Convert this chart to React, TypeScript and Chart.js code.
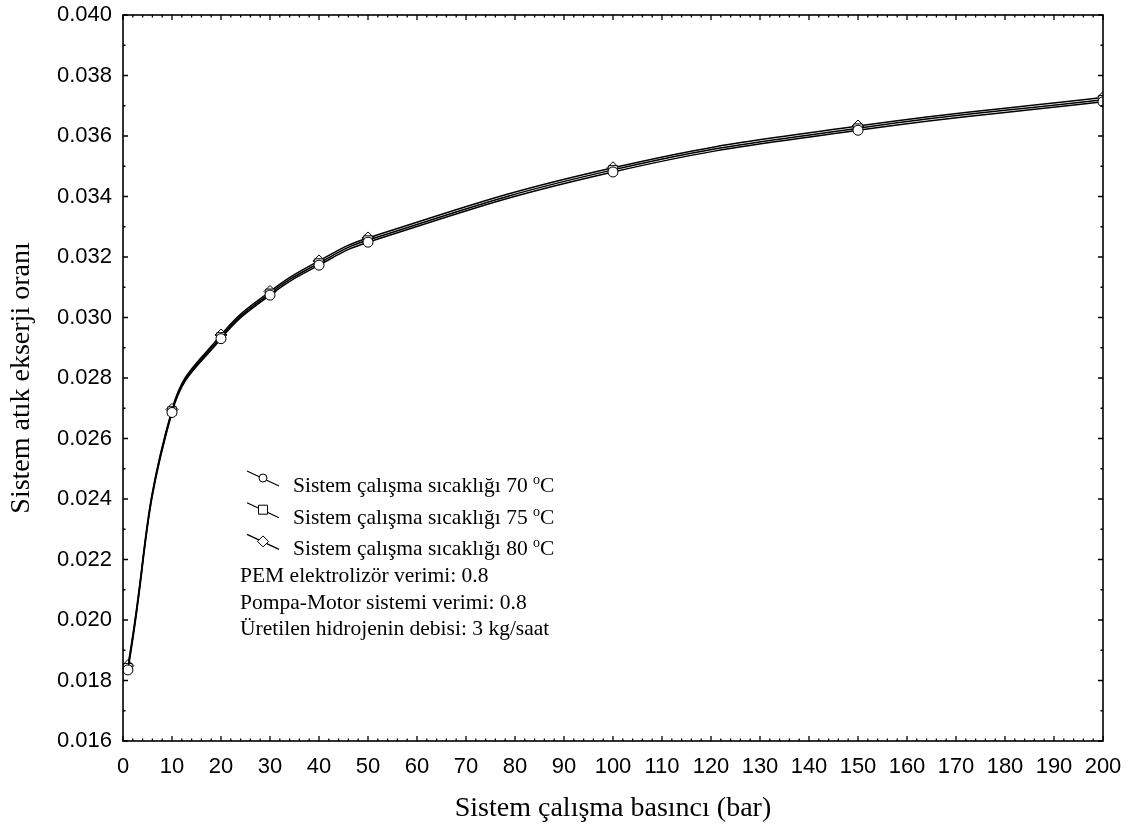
import React, { useEffect, useRef } from "react";
import { Chart, registerables } from "chart.js";

Chart.register(...registerables);

// Data
const pressures = [1, 10, 20, 30, 40, 50, 100, 150, 200];
const temps = [70, 75, 80];
const ratio70 = [0.01835, 0.02686, 0.02930, 0.03074, 0.03173, 0.03249, 0.03481, 0.03619, 0.03713];
const ratio75 = [0.01842, 0.02691, 0.02936, 0.03080, 0.03180, 0.03256, 0.03488, 0.03626, 0.03720];
const ratio80 = [0.01849, 0.02696, 0.02942, 0.03086, 0.03187, 0.03263, 0.03495, 0.03633, 0.03727];
const seriesValues = [ratio70, ratio75, ratio80];
const pointStyles = ["circle", "rect", "rectRot"];
const legendPrefix = "Sistem çalışma sıcaklığı ";
const notes = [
  "PEM elektrolizör verimi: 0.8",
  "Pompa-Motor sistemi verimi: 0.8",
  "Üretilen hidrojenin debisi: 3 kg/saat",
];
const xTitle = "Sistem çalışma basıncı (bar)";
const yTitle = "Sistem atık ekserji oranı";
const xMin = 0, xMax = 200, xStep = 10, xMinorStep = 2;
const yMin = 0.016, yMax = 0.04, yStep = 0.002, yMinorStep = 0.001;

const SERIF = '"Liberation Serif", "Times New Roman", serif';
const SANS = '"Liberation Sans", Arial, sans-serif';

function drawMarker(ctx: CanvasRenderingContext2D, style: string, x: number, y: number) {
  ctx.beginPath();
  if (style === "circle") {
    ctx.arc(x, y, 4, 0, Math.PI * 2);
  } else if (style === "rect") {
    ctx.rect(x - 4.5, y - 4.5, 9, 9);
  } else {
    ctx.moveTo(x, y - 5.5);
    ctx.lineTo(x + 5.5, y);
    ctx.lineTo(x, y + 5.5);
    ctx.lineTo(x - 5.5, y);
    ctx.closePath();
  }
  ctx.fillStyle = "#fff";
  ctx.fill();
  ctx.lineWidth = 1;
  ctx.strokeStyle = "#000";
  ctx.stroke();
}

const framePlugin = {
  id: "frame",
  afterDraw(chart: any) {
    const { ctx, chartArea: a, scales } = chart;
    const xs = scales.x, ys = scales.y;
    ctx.save();
    ctx.strokeStyle = "#000";
    ctx.lineWidth = 1.6;
    ctx.strokeRect(a.left, a.top, a.right - a.left, a.bottom - a.top);
    ctx.lineWidth = 1.3;
    ctx.beginPath();
    const nx = Math.round((xMax - xMin) / xMinorStep);
    const perMajorX = Math.round(xStep / xMinorStep);
    for (let i = 0; i <= nx; i++) {
      const px = xs.getPixelForValue(xMin + i * xMinorStep);
      const len = i % perMajorX === 0 ? 5 : 2.5;
      ctx.moveTo(px, a.bottom); ctx.lineTo(px, a.bottom - len);
      ctx.moveTo(px, a.top); ctx.lineTo(px, a.top + len);
    }
    const ny = Math.round((yMax - yMin) / yMinorStep);
    const perMajorY = Math.round(yStep / yMinorStep);
    for (let i = 0; i <= ny; i++) {
      const py = ys.getPixelForValue(yMin + i * yMinorStep);
      const len = i % perMajorY === 0 ? 5 : 2.5;
      ctx.moveTo(a.left, py); ctx.lineTo(a.left + len, py);
      ctx.moveTo(a.right, py); ctx.lineTo(a.right - len, py);
    }
    ctx.stroke();

    // axis titles
    ctx.fillStyle = "#000";
    ctx.font = "28px " + SERIF;
    ctx.textAlign = "center";
    ctx.textBaseline = "alphabetic";
    ctx.fillText(xTitle, (a.left + a.right) / 2, chart.height - 11);
    ctx.save();
    ctx.translate(29, (a.top + a.bottom) / 2);
    ctx.rotate(-Math.PI / 2);
    ctx.fillText(yTitle, 0, 0);
    ctx.restore();

    // legend
    const lx = a.left + 124;
    const ly = a.top + 477;
    ctx.textAlign = "left";
    temps.forEach((t, i) => {
      const base = ly + i * 31.7;
      const mx = lx + 16, my = base - 14;
      ctx.beginPath();
      ctx.moveTo(lx, my - 7);
      ctx.lineTo(lx + 32, my + 8);
      ctx.lineWidth = 1.2;
      ctx.strokeStyle = "#000";
      ctx.stroke();
      drawMarker(ctx, pointStyles[i], mx, my);
      ctx.fillStyle = "#000";
      ctx.font = "21.5px " + SERIF;
      const main = legendPrefix + t + " ";
      let tx = lx + 46;
      ctx.fillText(main, tx, base);
      tx += ctx.measureText(main).width;
      ctx.font = "14px " + SERIF;
      ctx.fillText("o", tx, base - 8);
      tx += ctx.measureText("o").width;
      ctx.font = "21.5px " + SERIF;
      ctx.fillText("C", tx, base);
    });
    ctx.font = "21.5px " + SERIF;
    notes.forEach((n, i) => {
      ctx.fillText(n, a.left + 117, ly + 90 + i * 26.7);
    });
    ctx.restore();
  },
};

export default function App() {
  const ref = useRef<HTMLCanvasElement | null>(null);
  useEffect(() => {
    if (!ref.current) return;
    const chart = new Chart(ref.current, {
      type: "line",
      data: {
        datasets: temps.map((t, i) => ({
          label: legendPrefix + t + " °C",
          data: pressures.map((p, j) => ({ x: p, y: seriesValues[i][j] })),
          borderColor: "#000",
          borderWidth: 1.5,
          backgroundColor: "#fff",
          pointStyle: pointStyles[i] as any,
          pointRadius: i === 0 ? 5 : 6,
          pointBorderColor: "#000",
          pointBackgroundColor: "#fff",
          pointBorderWidth: 1,
          tension: 0.45,
          fill: false,
        })),
      },
      options: {
        responsive: false,
        animation: false,
        devicePixelRatio: 1,
        layout: { padding: { left: 0, right: 35, top: 15, bottom: 0 } },
        plugins: { legend: { display: false }, tooltip: { enabled: false } },
        scales: {
          x: {
            type: "linear",
            min: xMin,
            max: xMax,
            grid: { display: false, drawTicks: false },
            border: { display: false },
            ticks: {
              stepSize: xStep,
              autoSkip: false,
              maxRotation: 0,
              padding: 13,
              color: "#000",
              font: { family: SANS, size: 22 },
            },
            afterFit: (s: any) => {
              s.height = 86;
              s.paddingLeft = 0;
              s.paddingRight = 0;
            },
          },
          y: {
            type: "linear",
            min: yMin,
            max: yMax,
            grid: { display: false, drawTicks: false },
            border: { display: false },
            ticks: {
              stepSize: yStep,
              padding: 11,
              color: "#000",
              font: { family: SANS, size: 22 },
              callback: (v: any) => Number(v).toFixed(3),
            },
            afterFit: (s: any) => {
              s.width = 123;
              s.paddingTop = 0;
              s.paddingBottom = 0;
            },
          },
        },
      },
      plugins: [framePlugin],
    });
    return () => chart.destroy();
  }, []);
  return (
    <div style={{ position: "absolute", left: 0, top: 0, width: 1138, height: 827, background: "#fff" }}>
      <canvas ref={ref} width={1138} height={827} />
    </div>
  );
}
